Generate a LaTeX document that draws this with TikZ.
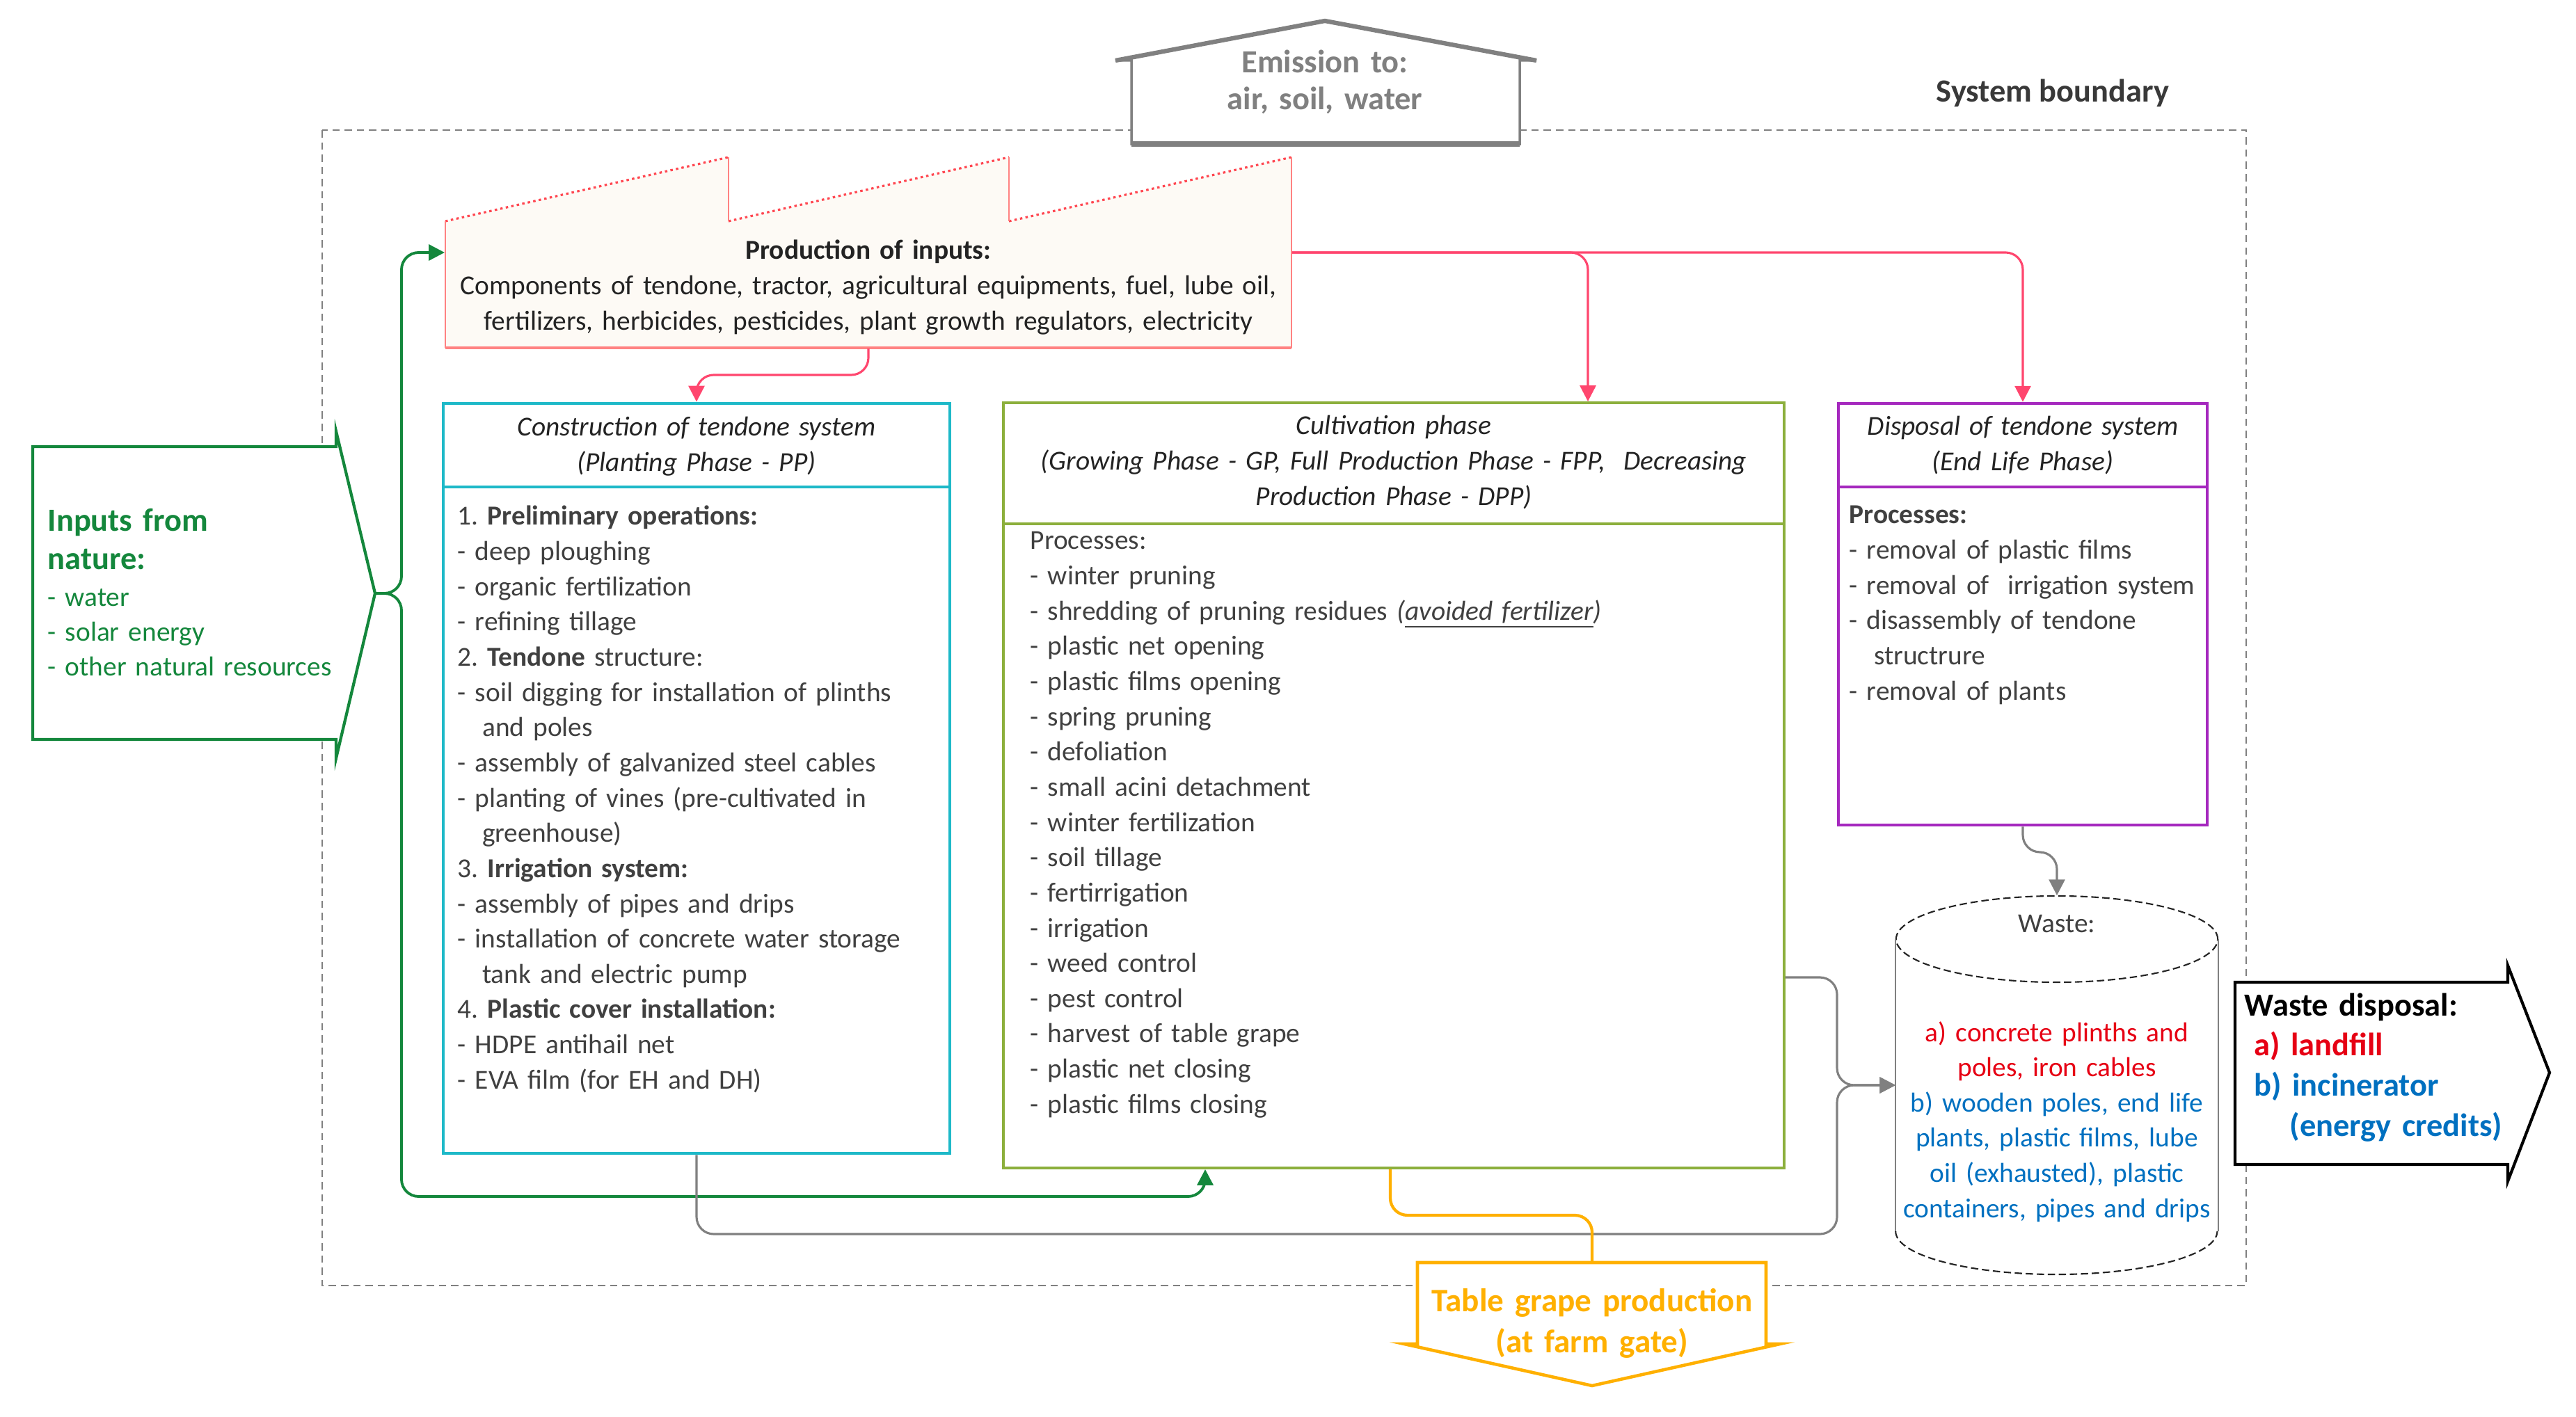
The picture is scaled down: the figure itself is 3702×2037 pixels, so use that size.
\documentclass[tikz,border=0pt]{standalone}
\usepackage{fontspec}
\setmainfont{Carlito}
\usetikzlibrary{arrows.meta}
\frenchspacing
\definecolor{natgreen}{RGB}{20,135,60}
\definecolor{ppcyan}{RGB}{30,185,200}
\definecolor{cultolive}{RGB}{140,175,60}
\definecolor{disppurple}{RGB}{165,40,190}
\definecolor{inpink}{RGB}{255,70,110}
\definecolor{factsalmon}{RGB}{255,130,130}
\definecolor{roofred}{RGB}{255,70,80}
\definecolor{factfill}{RGB}{253,250,245}
\definecolor{grapeorange}{RGB}{255,176,0}
\definecolor{linegrey}{RGB}{128,128,128}
\definecolor{txtgrey}{RGB}{64,64,64}
\definecolor{darktxt}{RGB}{35,35,35}
\definecolor{wastered}{RGB}{230,0,20}
\definecolor{wasteblue}{RGB}{0,112,192}
\tikzset{>={Triangle[length=6.5pt,width=6.5pt]}}
\tikzset{
  boundary/.style={draw=linegrey, line width=0.6pt, dash pattern=on 3pt off 2pt},
  phasebox/.style={draw=#1, line width=1.2pt, inner sep=0pt},
  phasetitle/.style={anchor=base, inner sep=0pt, text width=#1, align=center, text=darktxt, font=\itshape\fontsize{11.2}{14.4}\selectfont},
  phasebody/.style={anchor=base west, inner sep=0pt, text width=#1, align=left, text=txtgrey, font=\fontsize{11.2}{14.4}\selectfont},
  headtxt/.style={inner sep=0pt, font=\bfseries\fontsize{13.2}{16}\selectfont},
  flow/.style={line width=0.9pt, rounded corners=7pt},
}
\newcommand{\indentcont}{\hspace*{0.9em}}

\begin{document}
\begin{tikzpicture}[x=0.01cm, y=-0.01cm]
\useasboundingbox (0,0) rectangle (3702,2037);

% system boundary
\draw[boundary] (463,187) rectangle (3228,1848);
\node[headtxt, anchor=base, text=darktxt!90] (sysb) at (2950,147) {System boundary};

% emissions
\draw[linegrey, line width=1pt, fill=white] (1626,207) -- (1626,87) -- (1603,87) -- (1904,30) -- (2208,87) -- (2184,87) -- (2184,207) -- cycle;
\draw[linegrey, line width=1.8pt] (1603,87) -- (1904,30) -- (2208,87);
\draw[linegrey, line width=2.2pt] (1626,207) -- (2184,207);
\node[headtxt, anchor=base, text width=5cm, align=center, text=linegrey, font=\bfseries\fontsize{13.2}{15}\selectfont] (emis) at (1904,105) {Emission to:\\air, soil, water};

% production of inputs
\fill[factfill] (640,500) -- (640,318) -- (1047,226) -- (1047,318) -- (1450,226) -- (1450,318) -- (1856,226) -- (1856,500) -- cycle;
\draw[roofred, line width=0.9pt, dash pattern=on 1pt off 1.3pt] (640,318) -- (1047,226) (1047,318) -- (1450,226) (1450,318) -- (1856,226);
\draw[factsalmon, line width=0.6pt] (640,500) -- (640,318) (1047,226) -- (1047,318) (1450,226) -- (1450,318) (1856,226) -- (1856,500);
\draw[factsalmon, line width=1.4pt] (640,500) -- (1856,500);
\node[minimum width=12.16cm, minimum height=2.74cm, inner sep=0pt] (prod) at (1248,363) {};
\node[phasebody=12.1cm, anchor=base, align=center, text=darktxt] (prodtxt) at (1248,373) {\textbf{Production of inputs:}\\Components of tendone, tractor, agricultural equipments, fuel, lube oil,\\fertilizers, herbicides, pesticides, plant growth regulators, electricity};

% inputs from nature
\draw[natgreen, line width=1.2pt, fill=white] (47,642) -- (483,642) -- (483,620) -- (539,853) -- (483,1090) -- (483,1063) -- (47,1063) -- cycle;
\coordinate (natpt) at (539,853);
\node[headtxt, anchor=base west, text width=4cm, align=left, text=natgreen, font=\bfseries\fontsize{13.2}{15.6}\selectfont] (nathead) at (68,764) {Inputs from\\nature:};
\node[phasebody=4.3cm, text=natgreen, font=\fontsize{11.2}{14.2}\selectfont] (natlist) at (68,872) {- water\\- solar energy\\- other natural resources};

% planting phase
\node[phasebox=ppcyan, minimum width=7.28cm, minimum height=10.78cm] (pp) at (1001,1119) {};
\draw[ppcyan, line width=1.2pt] (pp.west |- 0,700) -- (pp.east |- 0,700);
\node[phasetitle=7cm] (pptitle) at (1001,627) {Construction of tendone system\\(Planting Phase - PP)};
\node[phasebody=7cm] (ppbody) at (657,755) {1. \textbf{Preliminary operations:}\\- deep ploughing\\- organic fertilization\\- refining tillage\\2. \textbf{Tendone} structure:\\- soil digging for installation of plinths\\\indentcont and poles\\- assembly of galvanized steel cables\\- planting of vines (pre-cultivated in\\\indentcont greenhouse)\\3. \textbf{Irrigation system:}\\- assembly of pipes and drips\\- installation of concrete water storage\\\indentcont tank and electric pump\\4. \textbf{Plastic cover installation:}\\- HDPE antihail net\\- EVA film (for EH and DH)};

% cultivation phase
\node[phasebox=cultolive, minimum width=11.21cm, minimum height=10.99cm] (cult) at (2003,1129) {};
\draw[cultolive, line width=1.2pt] (cult.west |- 0,753) -- (cult.east |- 0,753);
\node[phasetitle=11cm] (culttitle) at (2003,625) {Cultivation phase\\(Growing Phase - GP, Full Production Phase - FPP,\ \ Decreasing\\Production Phase - DPP)};
\node[phasebody=10.8cm] (cultbody) at (1480,790) {Processes:\\- winter pruning\\- shredding of pruning residues \textit{(\underline{avoided fertilizer})}\\- plastic net opening\\- plastic films opening\\- spring pruning\\- defoliation\\- small acini detachment\\- winter fertilization\\- soil tillage\\- fertirrigation\\- irrigation\\- weed control\\- pest control\\- harvest of table grape\\- plastic net closing\\- plastic films closing};

% end life phase
\node[phasebox=disppurple, minimum width=5.30cm, minimum height=6.06cm] (disp) at (2907,883) {};
\draw[disppurple, line width=1.2pt] (disp.west |- 0,700) -- (disp.east |- 0,700);
\node[phasetitle=5.2cm] (disptitle) at (2907,626) {Disposal of tendone system\\(End Life Phase)};
\node[phasebody=5.2cm] (dispbody) at (2657,753) {\textbf{Processes:}\\- removal of plastic films\\- removal of\ \ irrigation system\\- disassembly of tendone\\\indentcont structrure\\- removal of plants};

% waste
\node[minimum width=4.62cm, minimum height=5.44cm, inner sep=0pt] (waste) at (2956,1560) {};
\draw[darktxt, line width=0.6pt, dash pattern=on 3pt off 1.5pt] (2956,1350) ellipse [x radius=2.31cm, y radius=0.62cm];
\draw[darktxt, line width=0.6pt, dash pattern=on 3pt off 1.5pt] (waste.west |- 0,1770) arc[start angle=180, end angle=360, x radius=2.31cm, y radius=0.62cm];
\draw[linegrey, line width=0.5pt] (waste.west |- 0,1350) -- (waste.west |- 0,1770) (waste.east |- 0,1350) -- (waste.east |- 0,1770);
\node[phasebody=2cm, anchor=base, align=center] (wastelbl) at (2956,1340) {Waste:};
\node[phasebody=4.6cm, anchor=base, align=center] (wastetxt) at (2956,1497) {\color{wastered}a) concrete plinths and\\poles, iron cables\\\color{wasteblue}b) wooden poles, end life\\plants, plastic films, lube\\oil (exhausted), plastic\\containers, pipes and drips};

% waste disposal
\draw[black, line width=1.2pt, fill=white] (3212,1412) -- (3604,1412) -- (3604,1388) -- (3664,1542) -- (3604,1698) -- (3604,1674) -- (3212,1674) -- cycle;
\node[headtxt, anchor=base west, text width=3.9cm, align=left, font=\bfseries\fontsize{13.2}{16.4}\selectfont] (wdisp) at (3225,1460) {Waste disposal:\\\hspace*{0.3em}\textcolor{wastered}{a) landfill}\\\hspace*{0.3em}\textcolor{wasteblue}{b) incinerator}\\\hspace*{1.4em}\textcolor{wasteblue}{(energy credits)}};

% table grape
\node[minimum width=5.01cm, minimum height=1.17cm, inner sep=0pt] (grape) at (2288,1873) {};
\draw[grapeorange, line width=1.3pt, fill=white] (2037,1932) -- (2037,1815) -- (2538,1815) -- (2538,1932) -- (2558,1932) -- (2288,1992) -- (2018,1932) -- cycle;
\node[headtxt, anchor=base, text width=5cm, align=center, text=grapeorange, font=\bfseries\fontsize{13.4}{17}\selectfont] (grapetxt) at (2288,1885) {Table grape production\\(at farm gate)};

% connectors
\draw[flow, natgreen, line width=1.1pt, ->] (natpt) -- (577,853) |- (prod.west);
\draw[flow, natgreen, line width=1.1pt, ->] (natpt) -- (577,853) |- (1732,1720) -- (1732,0 |- cult.south);
\draw[flow, inpink, ->] (prod.south) -- (1248,539) -| (pp.north);
\draw[flow, inpink, ->] (prod.east) -| (disp.north);
\draw[flow, inpink, ->] (prod.east) -| (2282,0 |- cult.north);
\draw[flow, linegrey, ->] (disp.south) -- (2907,1225) -| (waste.north);
\draw[flow, linegrey, ->] (cult.east |- 0,1405) -| (2640,1560) -- (waste.west);
\draw[flow, linegrey, ->] (pp.south) |- (2640,1774) -- (2640,1560) -- (waste.west);
\draw[flow, grapeorange, line width=1.2pt] (1998,0 |- cult.south) |- (2288,1747) -- (grape.north);
\end{tikzpicture}
\end{document}
